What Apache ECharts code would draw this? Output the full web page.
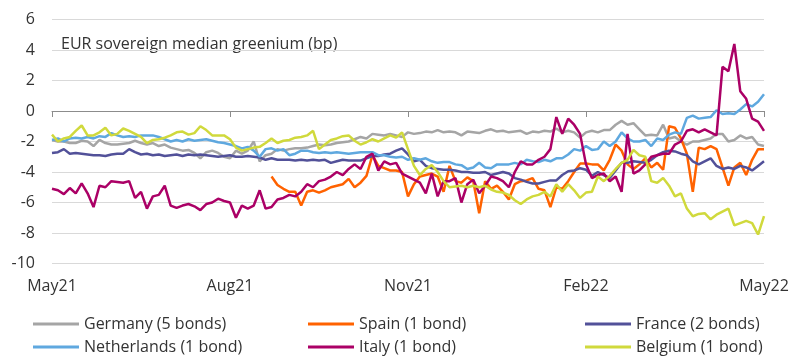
<!DOCTYPE html>
<html><head><meta charset="utf-8">
<script src="https://cdn.jsdelivr.net/npm/echarts@6/dist/echarts.min.js"></script>
<style>html,body{margin:0;padding:0;background:#fff;}#c{width:800px;height:363px;}</style>
</head><body><div id="c"></div>
<script>
const tickLabels = ['May21','Aug21','Nov21','Feb22','May22'];
const seriesNames = ['Germany (5 bonds)','Spain (1 bond)','France (2 bonds)','Netherlands (1 bond)','Italy (1 bond)','Belgium (1 bond)'];
const titleText = 'EUR sovereign median greenium (bp)';

const germany = [-1.9,-2.0,-2.0,-2.1,-2.1,-1.95,-2.0,-2.3,-1.9,-2.1,-2.2,-2.2,-2.15,-2.1,-1.95,-2.1,-2.2,-2.1,-2.3,-2.2,
 -2.4,-2.5,-2.6,-2.55,-2.75,-3.1,-2.7,-2.6,-2.75,-3.0,-3.1,-2.6,-2.8,-2.6,-2.0,-3.3,-2.9,-2.8,-2.5,-2.6,-2.5,-2.45,
 -2.45,-2.4,-2.3,-2.2,-2.25,-2.2,-2.1,-2.05,-2.0,-1.85,-1.7,-1.8,-1.5,-1.55,-1.6,-1.5,-1.6,-1.7,-1.4,
 -1.5,-1.45,-1.35,-1.4,-1.25,-1.4,-1.35,-1.4,-1.6,-1.35,-1.4,-1.45,-1.3,-1.2,-1.35,-1.3,-1.4,-1.35,-1.3,-1.5,-1.35,
 -1.4,-1.3,-1.35,-1.15,-1.4,-1.3,-1.4,-1.75,-1.4,-1.3,-1.4,-1.25,-1.25,-0.9,-0.65,-0.9,-0.8,-1.2,-1.6,-1.55,
 -1.6,-0.9,-1.8,-1.7,-2.0,-2.2,-2.0,-2.0,-1.9,-1.8,-1.5,-1.5,-2.0,-1.9,-1.6,-1.8,-1.7,-2.2,-2.3];

const spain = [null,null,null,null,null,null,null,null,null,null,null,null,null,null,null,null,null,null,null,null,
 null,null,null,null,null,null,null,null,null,null,null,null,null,null,null,null,null,
 -4.3,-4.85,-5.1,-5.3,-5.3,
 -6.2,-5.3,-5.2,-5.35,-5.2,-5.0,-4.9,-4.8,-4.45,-5.0,-4.7,-4.25,-2.9,-3.6,-3.75,-3.9,-3.9,-4.0,-5.6,-4.8,
 -4.3,-4.2,-4.1,-4.3,-5.3,-3.6,-4.6,-4.7,-4.35,-4.6,-6.7,-4.6,-5.1,-4.9,-5.3,-5.8,-4.8,-4.6,-4.55,-4.4,
 -5.1,-5.2,-6.3,-5.0,-5.1,-4.6,-4.0,-3.45,-3.45,-3.5,-3.5,-3.9,-3.2,-2.2,-2.6,-3.5,-3.8,-3.5,-3.1,-3.7,
 -3.4,-3.85,-1.0,-1.1,-1.8,-2.8,-5.3,-2.4,-2.5,-2.3,-2.5,-3.7,-4.9,-3.7,-3.4,-4.2,-3.2,-2.5,-2.5];

const france = [-2.75,-2.7,-2.5,-2.8,-2.75,-2.8,-2.85,-2.9,-2.9,-2.95,-2.85,-2.8,-2.8,-2.5,-2.7,-2.85,-2.8,-2.9,-2.85,-2.95,
 -2.9,-2.85,-2.95,-2.85,-2.9,-2.85,-2.9,-2.95,-3.0,-2.95,-2.9,-3.0,-3.0,-2.95,-3.0,-3.05,-3.2,-3.1,-3.2,-3.2,-3.2,-3.25,
 -3.2,-3.25,-3.2,-3.25,-3.2,-3.4,-3.3,-3.2,-3.25,-3.25,-3.25,-3.1,-2.95,-2.95,-2.85,-2.8,-2.6,-2.45,-2.85,-3.3,
 -3.2,-3.6,-3.75,-3.8,-3.85,-3.85,-3.9,-4.0,-4.0,-4.05,-4.05,-4.0,-4.2,-4.1,-4.0,-4.1,-4.4,-4.5,-4.65,-4.75,
 -4.75,-4.65,-4.55,-4.55,-4.2,-3.95,-3.9,-3.75,-3.85,-4.25,-4.0,-4.2,-4.4,-3.9,-3.4,-3.4,-3.3,-3.35,-3.4,-3.2,
 -2.9,-2.7,-2.6,-2.65,-2.8,-2.9,-3.3,-3.5,-3.3,-3.1,-3.6,-3.8,-3.7,-3.8,-3.6,-3.7,-3.9,-3.6,-3.3];

const netherlands = [-1.9,-1.8,-2.0,-1.8,-1.75,-1.8,-1.7,-1.8,-1.65,-1.7,-1.45,-1.6,-1.7,-1.65,-1.7,-1.6,-1.6,-1.6,-1.7,-1.85,
 -2.0,-1.9,-2.0,-1.85,-1.95,-1.9,-1.85,-1.95,-2.05,-2.1,-2.2,-2.3,-2.45,-2.35,-2.6,-3.0,-2.5,-2.45,-2.6,-2.5,-2.9,-2.8,
 -2.6,-2.6,-2.7,-2.75,-2.7,-2.75,-2.7,-2.75,-2.8,-2.75,-2.7,-2.7,-2.7,-2.9,-2.9,-3.0,-3.05,-3.0,-3.2,-3.1,
 -3.2,-3.1,-3.3,-3.4,-3.35,-3.35,-3.5,-3.55,-3.8,-3.7,-3.4,-3.7,-3.75,-3.5,-3.5,-3.5,-3.4,-3.5,-3.2,-3.3,
 -3.35,-3.2,-3.3,-3.1,-3.1,-2.85,-2.5,-2.6,-2.3,-2.55,-2.5,-2.0,-2.3,-2.0,-1.4,-1.8,-2.0,-2.0,-1.9,-2.3,
 -1.8,-1.9,-1.55,-1.4,-1.5,-0.45,-0.3,-0.5,-0.45,-0.4,0.05,-0.2,-0.15,-0.2,0.1,0.45,0.3,0.6,1.1];

const italy = [-5.1,-5.2,-5.45,-5.05,-5.4,-4.75,-5.4,-6.3,-4.9,-5.0,-4.6,-4.65,-4.7,-4.6,-5.7,-5.3,-6.4,-5.6,-5.5,-4.9,
 -6.2,-6.35,-6.2,-6.1,-6.25,-6.5,-6.1,-6.0,-5.75,-5.9,-6.0,-7.0,-6.2,-6.4,-6.2,-5.2,-6.4,-6.3,-5.8,-5.7,-5.5,-5.6,
 -5.3,-4.8,-5.0,-4.6,-4.5,-4.3,-4.0,-4.2,-3.8,-3.5,-3.8,-3.0,-2.8,-3.9,-3.3,-3.5,-3.4,-4.1,-4.3,-4.5,
 -4.7,-5.4,-4.1,-5.6,-4.6,-4.6,-4.4,-6.0,-4.8,-4.5,-5.4,-4.9,-4.3,-4.4,-4.6,-5.0,-4.0,-3.3,-3.5,-3.5,
 -3.2,-3.0,-2.5,-0.4,-1.5,-0.5,-0.9,-1.5,-3.5,-4.4,-4.2,-4.1,-4.6,-4.3,-5.3,-1.5,-4.1,-3.9,-3.5,-3.0,
 -2.9,-2.8,-2.8,-2.2,-2.0,-1.3,-1.2,-1.4,-1.2,-1.4,-1.6,2.9,2.6,4.4,1.3,0.8,-0.5,-0.7,-1.3];

const belgium = [-1.55,-2.0,-1.8,-1.7,-1.3,-0.95,-1.6,-1.6,-1.4,-1.1,-1.6,-1.5,-1.15,-1.3,-1.5,-1.7,-2.1,-1.9,-1.85,-1.75,
 -1.6,-1.4,-1.35,-1.55,-1.45,-1.0,-1.25,-1.6,-1.6,-1.6,-1.85,-2.4,-2.6,-2.5,-2.4,-2.35,-2.1,-1.8,-2.1,-1.95,-1.9,-1.75,
 -1.7,-1.6,-1.3,-2.5,-2.2,-1.9,-1.8,-1.65,-1.6,-1.95,-2.2,-2.05,-1.85,-2.0,-1.8,-1.6,-1.75,-1.4,-2.5,-3.6,
 -4.2,-3.8,-3.55,-4.0,-4.6,-5.0,-4.95,-4.9,-5.0,-4.9,-5.0,-4.9,-5.15,-5.3,-5.35,-5.5,-5.85,-6.1,-5.8,-5.6,
 -5.5,-5.3,-5.6,-4.8,-5.3,-4.8,-5.2,-5.7,-5.35,-5.3,-4.3,-4.6,-4.25,-3.8,-3.4,-3.2,-2.55,-2.9,-3.0,-4.6,
 -4.7,-4.4,-4.9,-5.6,-5.4,-6.4,-6.9,-6.75,-6.7,-7.1,-6.8,-6.6,-6.4,-7.5,-7.35,-7.2,-7.35,-8.1,-6.9];

const seriesData = [germany, spain, france, netherlands, italy, belgium];
const colors = ['#a5a5a5','#ff6200','#525199','#5fa8df','#ab0066','#d0d93c'];

// category labels: evenly spaced observation dates May 2021 - May 2022
const categories = [];
(function(){
  const start = Date.UTC(2021,4,3), end = Date.UTC(2022,4,2), n = germany.length;
  for (let i = 0; i < n; i++) {
    const d = new Date(start + (end - start) * i / (n - 1));
    categories.push(d.toISOString().slice(0,10));
  }
})();
const step = (categories.length - 1) / (tickLabels.length - 1);

const FONT = 'Open Sans';
const FS = 16;
const chart = echarts.init(document.getElementById('c'), null, {renderer:'canvas'});
const legendBase = {
  orient:'vertical', top:316, padding:0, itemWidth:46, itemHeight:3, itemGap:7, icon:'rect',
  textStyle:{fontSize:FS, color:'#333', fontFamily:FONT, lineHeight:16}
};
chart.setOption({
  animation:false,
  color: colors,
  grid:{left:52, right:36, top:19.5, bottom:99.5, containLabel:false, outerBoundsMode:'none'},
  graphic:[{type:'text', left:61, top:36, style:{text:titleText, fontSize:FS, fill:'#333', fontFamily:FONT}}],
  legend:[
    Object.assign({}, legendBase, {left:33, data:[seriesNames[0], seriesNames[3]]}),
    Object.assign({}, legendBase, {left:308, data:[seriesNames[1], seriesNames[4]]}),
    Object.assign({}, legendBase, {left:585, data:[seriesNames[2], seriesNames[5]]})
  ],
  xAxis:[{
    type:'category', data:categories, boundaryGap:false, position:'bottom',
    axisLine:{show:true, onZero:true, lineStyle:{color:'#8c8c8c', width:1}},
    axisTick:{show:true, length:6, interval:step-1, lineStyle:{color:'#8c8c8c'}},
    axisLabel:{show:false},
    splitLine:{show:false}
  },{
    type:'category', data:categories, boundaryGap:false, position:'bottom', offset:0,
    axisLine:{show:false, onZero:false}, axisTick:{show:false},
    axisLabel:{interval:step-1, margin:15, fontSize:FS, color:'#333', fontFamily:FONT,
      formatter:function(v, idx){ return idx % step === 0 ? tickLabels[idx/step] : ''; }},
    splitLine:{show:false}
  }],
  yAxis:{
    type:'value', min:-10, max:6, interval:2,
    axisLine:{show:false}, axisTick:{show:false},
    axisLabel:{fontSize:FS, color:'#333', fontFamily:FONT, margin:17},
    splitLine:{lineStyle:{color:'#d9d9d9', width:1}}
  },
  series: seriesNames.map(function(name, k){
    return {name:name, type:'line', data:seriesData[k], xAxisIndex:0, showSymbol:false, symbol:'none',
      lineStyle:{width:2.5, color:colors[k]}, itemStyle:{color:colors[k]}, connectNulls:false};
  })
});
</script></body></html>
